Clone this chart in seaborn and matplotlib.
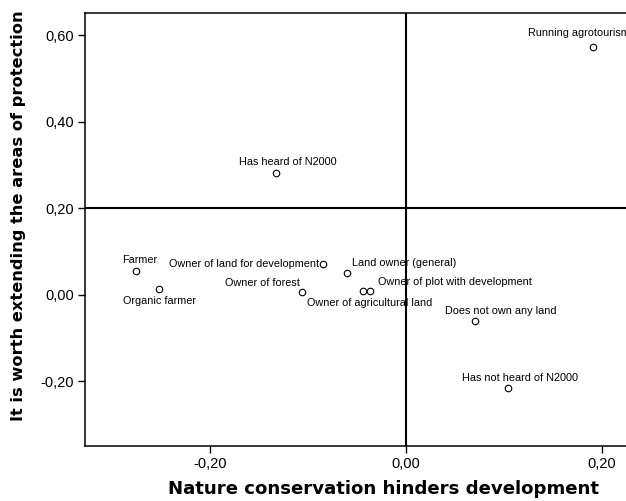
"""
Scatter of group positions: nature conservation hinders development vs
worth extending areas of protection (SPSS-style quadrant plot).
"""

import pandas as pd
import matplotlib
matplotlib.use("Agg")
import matplotlib.pyplot as plt
import seaborn as sns

# ── Data ─────────────────────────────────────────────────────────────────────
groups = [
    "Running agrotourism", "Has heard of N2000", "Farmer", "Organic farmer",
    "Owner of forest", "Owner of land for development", "Land owner (general)",
    "Owner of agricultural land", "Owner of plot with development",
    "Does not own any land", "Has not heard of N2000",
]
hinders = [0.191, -0.133, -0.276, -0.252, -0.106, -0.085, -0.060,
           -0.044, -0.037, 0.070, 0.104]
extend = [0.572, 0.280, 0.054, 0.012, 0.005, 0.070, 0.051,
          0.008, 0.008, -0.062, -0.215]

xticks = [-0.20, 0.00, 0.20]
yticks = [-0.20, 0.00, 0.20, 0.40, 0.60]

# label placement (pixel offsets from the point, horizontal alignment)
label_pos = [
    (-14, 14, "center"), (12, 11, "center"), (4, 11, "center"),
    (0, -12, "center"), (-3, 9, "right"), (-4, 0, "right"),
    (5, 10, "left"), (7, -12, "center"), (8, 9, "left"),
    (26, 10, "center"), (12, 10, "center"),
]

df = pd.DataFrame({"group": groups, "hinders": hinders, "extend": extend})

# ── Plot ─────────────────────────────────────────────────────────────────────
sns.set_style("white")
plt.rcParams["font.family"] = ["Liberation Sans", "DejaVu Sans"]
plt.rcParams["text.color"] = "black"
plt.rcParams["axes.labelcolor"] = "black"
plt.rcParams["xtick.color"] = "black"
plt.rcParams["ytick.color"] = "black"

fig = plt.figure(figsize=(6.26, 5.01), dpi=100)
ax = fig.add_axes([85 / 626, 1 - 446 / 501, 1 - 85 / 626, (446 - 13) / 501])

ax.axvline(0, color="black", lw=1.5, zorder=1)
ax.axhline(0.20, color="black", lw=1.5, zorder=1)

sns.scatterplot(data=df, x="hinders", y="extend", ax=ax, s=22,
                facecolor="white", edgecolor="black", linewidth=0.8,
                zorder=3, legend=False)

for (g, x, y), (dx, dy, ha) in zip(zip(groups, hinders, extend), label_pos):
    ax.annotate(g, (x, y), xytext=(dx, dy), textcoords="offset pixels",
                ha=ha, va="center", fontsize=7.8, color="black",
                annotation_clip=False)

ax.set_xlim(-0.328, 0.2245)
ax.set_ylim(-0.35, 0.651)
ax.set_xticks(xticks)
ax.set_yticks(yticks)
ax.set_xticklabels([f"{v:.2f}".replace(".", ",") for v in xticks], fontsize=10.5)
ax.set_yticklabels([f"{v:.2f}".replace(".", ",") for v in yticks], fontsize=10.5)
ax.tick_params(direction="out", length=5, width=1, color="black",
               labelcolor="black", left=True, bottom=True, pad=3)

for side in ["left", "bottom", "top"]:
    ax.spines[side].set_color("black")
    ax.spines[side].set_linewidth(1.1)
ax.spines["right"].set_visible(False)

ax.set_xlabel("Nature conservation hinders development", fontsize=13.1,
              fontweight="bold", family="DejaVu Sans", color="black")
ax.set_ylabel("It is worth extending the areas of protection", fontsize=11.7,
              fontweight="bold", family="DejaVu Sans", color="black")
ax.xaxis.set_label_coords((384 - 85) / 541, -0.078)
ax.yaxis.set_label_coords(-0.109, (446 - 215.5) / 433)

fig.savefig("out.png", dpi=100)
plt.close(fig)
